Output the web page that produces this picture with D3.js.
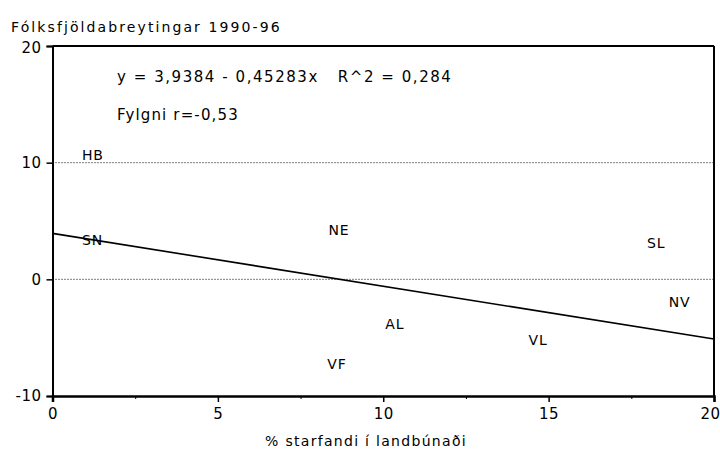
<!DOCTYPE html>
<html><head><meta charset="utf-8">
<script src="https://cdn.jsdelivr.net/npm/d3@7"></script>
<style>
body{margin:0;background:#fff;}
text{font-family:"DejaVu Sans",sans-serif;fill:#000;white-space:pre;}
</style></head>
<body><svg id="c" width="720" height="450"></svg>
<script>
const regions = ["HB","SN","NE","SL","NV","AL","VL","VF"];
const agriShare = [1.22, 1.21, 8.66, 18.25, 18.96, 10.35, 14.68, 8.6];
const popChange = [10.66, 3.37, 4.23, 3.09, -1.91, -3.83, -5.2, -7.26];
const xTicks = [0,5,10,15,20];
const xMinorTicks = [2.5,7.5,12.5,17.5];
const yTicks = [-10,0,10,20];
const gridValues = [0,10];
const intercept = 3.9384, slope = -0.45283;
const title = "Fólksfjöldabreytingar 1990-96";
const xLabel = "% starfandi í landbúnaði";
const eqText = "y = 3,9384 - 0,45283x   R^2 = 0,284";
const corrText = "Fylgni r=-0,53";

const svg = d3.select("#c");
const x = d3.scaleLinear().domain([0,20]).range([52.5,714]);
const y = d3.scaleLinear().domain([-10,20]).range([396,46]);

// gridlines
svg.selectAll(".grid").data(gridValues).enter().append("line")
  .attr("x1",x(0)).attr("x2",x(20)).attr("y1",d=>y(d)).attr("y2",d=>y(d))
  .attr("stroke","#000").attr("stroke-width",1).attr("stroke-dasharray","1,2");

// frame top/right
svg.append("line").attr("x1",x(0)).attr("x2",x(20)).attr("y1",y(20)).attr("y2",y(20)).attr("stroke","#000").attr("stroke-width",2);
svg.append("line").attr("x1",x(20)).attr("x2",x(20)).attr("y1",y(20)).attr("y2",y(-10)).attr("stroke","#000").attr("stroke-width",2);

// regression line
svg.append("line").attr("x1",x(0)).attr("x2",x(20))
  .attr("y1",y(intercept)).attr("y2",y(intercept+slope*20))
  .attr("stroke","#000").attr("stroke-width",1.6);

// axes
const fmt = d => String(d);
const xAxis = d3.axisBottom(x).tickValues(xTicks).tickSize(6).tickFormat(fmt);
const gx = svg.append("g").attr("transform",`translate(0,${y(-10)})`).call(xAxis);
gx.select(".domain").attr("stroke-width",2.5);
gx.selectAll(".tick line").attr("stroke-width",1.5);
gx.selectAll(".tick text").attr("font-size",15).attr("dy","0.95em").attr("letter-spacing",0.5);
gx.selectAll(".tick").filter(d=>d===20).select("text").attr("text-anchor","end").attr("x",6);
const gxm = svg.append("g").attr("transform",`translate(0,${y(-10)})`)
  .call(d3.axisBottom(x).tickValues(xMinorTicks).tickSize(3).tickFormat(""));
gxm.select(".domain").remove();

const yAxis = d3.axisLeft(y).tickValues(yTicks).tickSize(6).tickFormat(fmt);
const gy = svg.append("g").attr("transform",`translate(${x(0)},0)`).call(yAxis);
gy.select(".domain").attr("stroke-width",2);
gy.selectAll(".tick line").attr("stroke-width",1.5);
gy.selectAll(".tick text").attr("font-size",15).attr("x",-11).attr("letter-spacing",0.5);
gy.selectAll(".tick").filter(d=>d===20).select("text").attr("dy","0.45em");

// point labels
svg.selectAll(".lab").data(regions).enter().append("text")
  .attr("x",(d,i)=>x(agriShare[i])).attr("y",(d,i)=>y(popChange[i]))
  .attr("text-anchor","middle").attr("dy","0.36em").attr("font-size",14).attr("letter-spacing",0.8)
  .text(d=>d);

// texts
svg.append("text").attr("x",11).attr("y",32).attr("font-size",14).attr("letter-spacing",2.1).text(title);
svg.append("text").attr("x",117).attr("y",82).attr("font-size",15).attr("letter-spacing",1.55).text(eqText);
svg.append("text").attr("x",117).attr("y",120).attr("font-size",15).attr("letter-spacing",1.15).text(corrText);
svg.append("text").attr("x",366).attr("y",446).attr("text-anchor","middle").attr("font-size",14).attr("letter-spacing",1.3).text(xLabel);
</script></body></html>
